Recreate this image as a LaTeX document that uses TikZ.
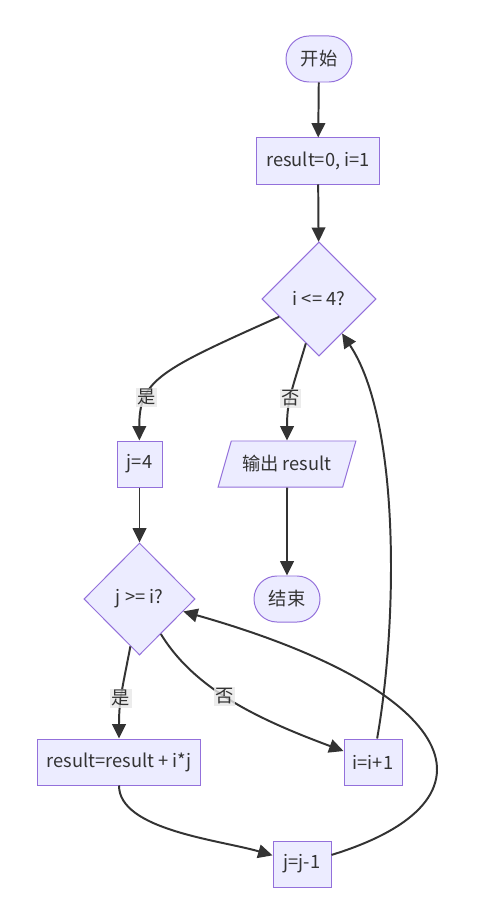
\documentclass[tikz,border=0pt]{standalone}
\usepackage{fontspec}
\setmainfont{Noto Sans CJK SC}
\usepackage{xcolor}
\usetikzlibrary{arrows.meta, shapes.geometric, backgrounds}
\definecolor{nodefill}{HTML}{ECECFF}
\definecolor{nodeline}{HTML}{9370DB}
\definecolor{edgeline}{HTML}{333333}
\definecolor{lblfill}{HTML}{E8E8E8}

\begin{document}
\begin{tikzpicture}[x=0.025cm,y=-0.025cm,
  every node/.style={font=\fontsize{13}{15}\selectfont,text=edgeline},
  elem/.style={draw=nodeline,fill=nodefill,line width=0.7pt,minimum height=1.15cm},
  term/.style={elem,rounded corners=0.575cm,minimum width=1.65cm},
  proc/.style={elem,shape=rectangle},
  cond/.style={elem,shape=diamond,minimum width=2.85cm,minimum height=2.85cm,inner sep=0pt},
  io/.style={elem,shape=trapezium,trapezium left angle=66,trapezium right angle=114,trapezium stretches=true,minimum width=3.45cm},
  flow/.style={draw=edgeline,line width=1.4pt,-{Triangle[length=3.6mm,width=3.4mm]}},
  lbl/.style={fill=lblfill,fill opacity=0.8,text opacity=1,inner sep=1pt},
  background rectangle/.style={fill=white},show background rectangle]

\useasboundingbox (0,0) rectangle (490,898);

% Draw the flowchart nodes
\node[term] (n1) at (319,59) {开始};
\node[proc,minimum width=3.05cm] (n2) at (318,161) {result=0, i=1};
\node[cond] (n3) at (319,299) {i <= 4?};
\node[proc,minimum width=1.125cm] (n4) at (139.5,464) {j=4};
\node[io] (n5) at (287,464) {输出 result};
\node[cond,minimum width=2.78cm,minimum height=2.8cm] (n6) at (139.5,599) {j >= i?};
\node[term] (n7) at (287,599) {结束};
\node[proc,minimum width=4.05cm] (n8) at (119,762) {result=result + i*j};
\node[proc,minimum width=1.45cm] (n9) at (373,762) {i=i+1};
\node[proc,minimum width=1.45cm] (n10) at (302,864) {j=j-1};

% Links between the nodes
\draw[flow] (n1) -- (n2);
\draw[flow] (n2) -- (n3);
\draw[flow] (n3) .. controls (160,370) and (139,380) .. (n4) node[lbl,pos=0.7] {是};
\draw[flow] (n3) .. controls (292,390) and (287,400) .. (n5) node[lbl,pos=0.55] {否};
\draw[flow] (n4) -- (n6);
\draw[flow] (n5) -- (n7);
\draw[flow] (n6) .. controls (122,690) and (119,700) .. (n8) node[lbl,pos=0.55] {是};
\draw[flow] (n6) .. controls (195,690) and (260,720) .. (n9) node[lbl,pos=0.45] {否};
\draw[flow] (n9) .. controls (398,620) and (400,420) .. (n3);
\draw[flow] (n8) .. controls (119,830) and (220,840) .. (n10);
\draw[flow] (n10) .. controls (510,800) and (460,690) .. (n6);

\end{tikzpicture}
\end{document}
